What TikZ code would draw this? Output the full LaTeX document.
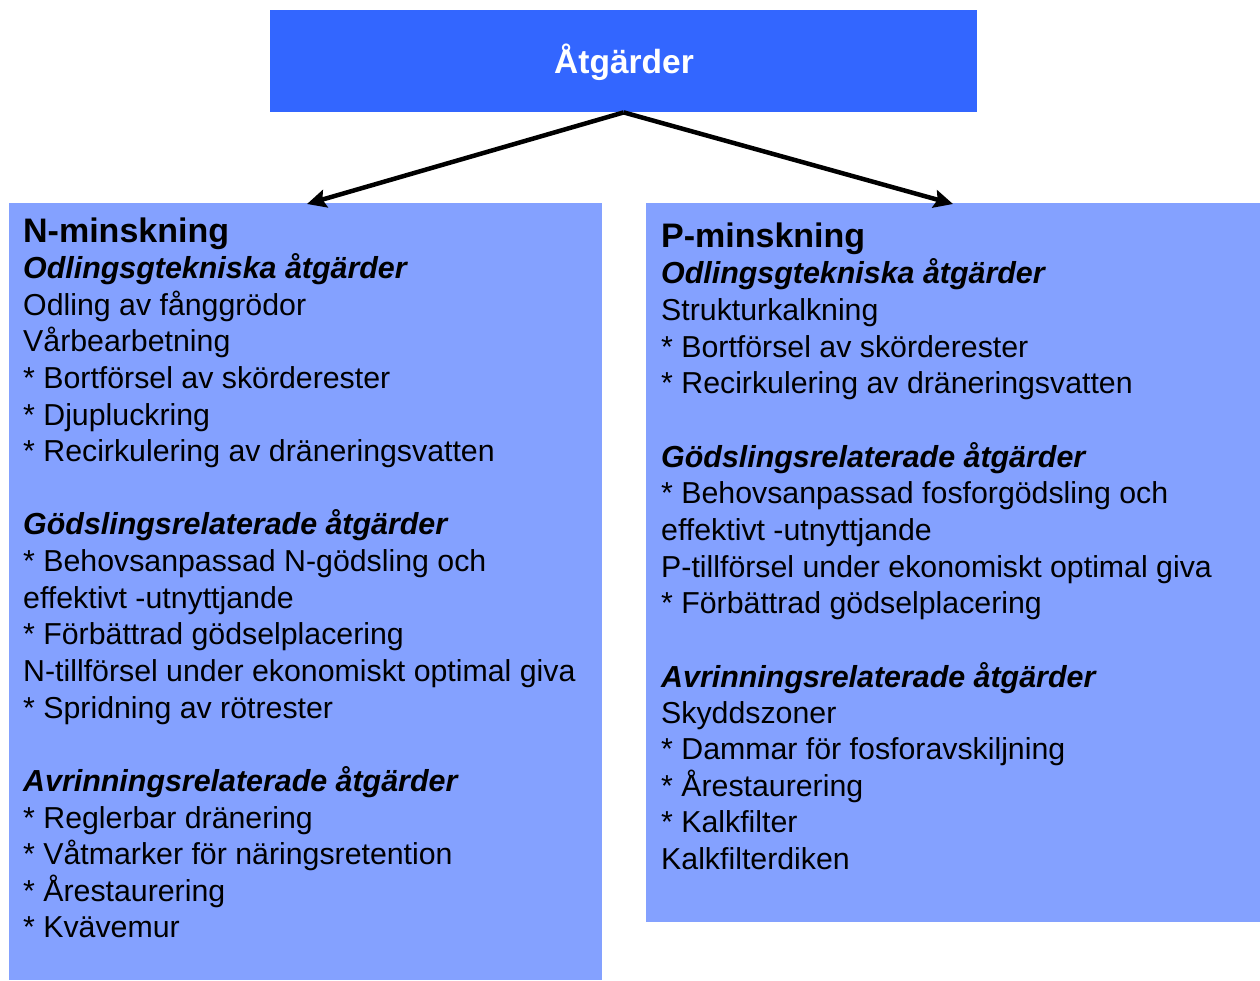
\documentclass[tikz,border=0pt]{standalone}
\usepackage{fontspec}
\setmainfont{Liberation Sans}
\usetikzlibrary{arrows.meta}
\definecolor{topblue}{RGB}{51,102,255}
\definecolor{lightblue}{RGB}{132,161,255}
\tikzset{
  topbox/.style={fill=topblue, draw=none, inner sep=0pt, anchor=north west},
  lightbox/.style={fill=lightblue, draw=none, inner sep=0pt, anchor=north west},
  ln/.style={anchor=base west, inner sep=0pt, font=\fontsize{30.3}{31}\selectfont},
  sec/.style={ln, font=\fontsize{30.4}{31}\selectfont\bfseries\itshape},
  hd/.style={ln, font=\fontsize{34}{36}\selectfont\bfseries},
  arr/.style={line width=4.5pt, -{Stealth[length=19pt,width=18pt,inset=3pt]}}
}
\begin{document}
\begin{tikzpicture}[x=1pt,y=-1pt]
\useasboundingbox (0,0) rectangle (1260,980);
\node[topbox, minimum width=707pt, minimum height=102pt] (top) at (270,10) {};
\node[font=\fontsize{33.5}{35}\selectfont\bfseries, text=white, inner sep=0pt] (title) at (624,62) {Åtgärder};
\node[lightbox, minimum width=593pt, minimum height=777pt] (lbox) at (9,203) {};
\node[lightbox, minimum width=614pt, minimum height=719pt] (rbox) at (646,203) {};
\coordinate (la) at (307,204);
\coordinate (ra) at (953,204);
\draw[arr] (top.south) -- (la);
\draw[arr] (top.south) -- (ra);
% left
\node[hd] (n0) at (23,242) {N-minskning};
\node[sec] (n1) at (23,278) {Odlingsgtekniska åtgärder};
\node[ln] (n2) at (23,315) {Odling av fånggrödor};
\node[ln] (n3) at (23,351) {Vårbearbetning};
\node[ln] (n4) at (23,388) {* Bortförsel av skörderester};
\node[ln] (n5) at (23,425) {* Djupluckring};
\node[ln] (n6) at (23,461) {* Recirkulering av dräneringsvatten};
\node[sec] (n7) at (23,534) {Gödslingsrelaterade åtgärder};
\node[ln] (n8) at (23,571) {* Behovsanpassad N-gödsling och};
\node[ln] (n9) at (23,608) {effektivt -utnyttjande};
\node[ln] (n10) at (23,644) {* Förbättrad gödselplacering};
\node[ln] (n11) at (23,681) {N-tillförsel under ekonomiskt optimal giva};
\node[ln] (n12) at (23,718) {* Spridning av rötrester};
\node[sec] (n13) at (23,791) {Avrinningsrelaterade åtgärder};
\node[ln] (n14) at (23,828) {* Reglerbar dränering};
\node[ln] (n15) at (23,864) {* Våtmarker för näringsretention};
\node[ln] (n16) at (23,901) {* Årestaurering};
\node[ln] (n17) at (23,937) {* Kvävemur};
% right
\node[hd] (p0) at (661,247) {P-minskning};
\node[sec] (p1) at (661,283) {Odlingsgtekniska åtgärder};
\node[ln] (p2) at (661,320) {Strukturkalkning};
\node[ln] (p3) at (661,357) {* Bortförsel av skörderester};
\node[ln] (p4) at (661,393) {* Recirkulering av dräneringsvatten};
\node[sec] (p5) at (661,467) {Gödslingsrelaterade åtgärder};
\node[ln] (p6) at (661,503) {* Behovsanpassad fosforgödsling och};
\node[ln] (p7) at (661,540) {effektivt -utnyttjande};
\node[ln] (p8) at (661,577) {P-tillförsel under ekonomiskt optimal giva};
\node[ln] (p9) at (661,613) {* Förbättrad gödselplacering};
\node[sec] (p10) at (661,687) {Avrinningsrelaterade åtgärder};
\node[ln] (p11) at (661,723) {Skyddszoner};
\node[ln] (p12) at (661,759) {* Dammar för fosforavskiljning};
\node[ln] (p13) at (661,796) {* Årestaurering};
\node[ln] (p14) at (661,832) {* Kalkfilter};
\node[ln] (p15) at (661,869) {Kalkfilterdiken};
\end{tikzpicture}
\end{document}
